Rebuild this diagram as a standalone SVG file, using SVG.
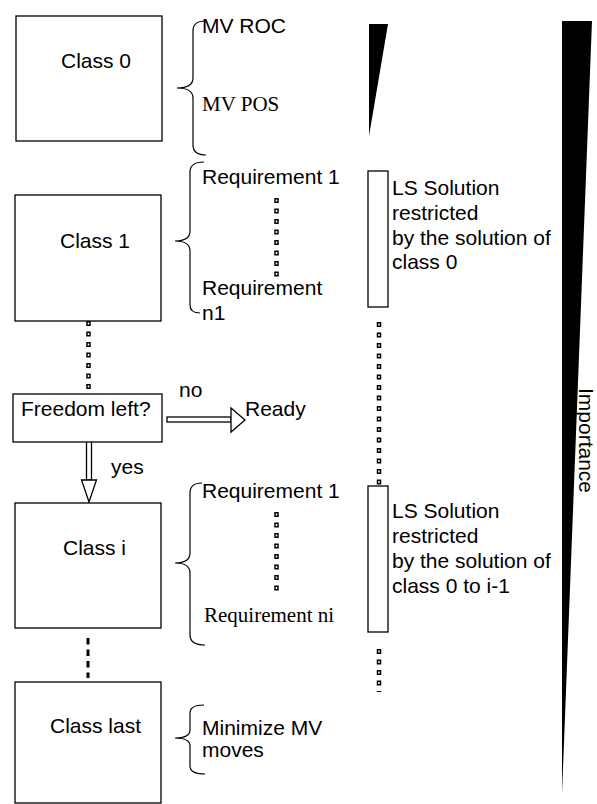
<svg xmlns="http://www.w3.org/2000/svg" width="597" height="804" viewBox="0 0 597 804">
<style>
.box{fill:#fff;stroke:#000;stroke-width:1.3}
.t{font-family:"Liberation Sans",Arial,sans-serif;font-size:21px;fill:#000}
.s{font-family:"Liberation Serif","Times New Roman",serif;font-size:21px;fill:#000}
.brace{fill:none;stroke:#000;stroke-width:1.2}
.dotb{stroke:#000;stroke-width:4.5;stroke-dasharray:5 5.5;fill:none}
.dotw{stroke:#fff;stroke-width:1.5;stroke-dasharray:2 8.5;stroke-dashoffset:-1.5;fill:none}
.arr{fill:#fff;stroke:#000;stroke-width:1.3}
</style>
<rect width="597" height="804" fill="#fff"/>
<g id="connectors">
<line class="dotb" x1="88.5" y1="321" x2="88.5" y2="398"/>
<line class="dotw" x1="88.5" y1="321" x2="88.5" y2="398"/>
<line class="dotb" x1="276.5" y1="198" x2="276.5" y2="278"/>
<line class="dotw" x1="276.5" y1="198" x2="276.5" y2="278"/>
<line class="dotb" x1="379" y1="322" x2="379" y2="485"/>
<line class="dotw" x1="379" y1="322" x2="379" y2="485"/>
<line class="dotb" x1="276.5" y1="512" x2="276.5" y2="596"/>
<line class="dotw" x1="276.5" y1="512" x2="276.5" y2="596"/>
<line class="dotb" x1="379" y1="649" x2="379" y2="692"/>
<line class="dotw" x1="379" y1="649" x2="379" y2="692"/>
<line x1="88" y1="638" x2="88" y2="678" stroke="#000" stroke-width="3" stroke-dasharray="6.5 5"/>
<rect class="arr" x="167" y="417" width="64" height="5"/>
<polygon class="arr" points="231,408 245,420 231,432"/>
<rect class="arr" x="86.5" y="441" width="5" height="39"/>
<polygon class="arr" points="81.5,480 96.5,480 89,502"/>
<text class="t" x="179" y="397">no</text>
<text class="t" x="111" y="474">yes</text>
</g>
<g id="class0">
<rect class="box" x="16" y="16" width="146" height="125"/>
<text class="t" x="61" y="68">Class 0</text>
</g>
<g id="brace0">
<path class="brace" d="M205,21 Q193,21 193,31 L193,78 Q193,88 177,88 Q193,88 193,98 L193,145 Q193,155 206,155"/>
<text class="t" x="202" y="33">MV ROC</text>
<text class="s" x="202" y="111">MV POS</text>
</g>
<g id="class1">
<rect class="box" x="15" y="195" width="146" height="126"/>
<text class="t" x="60" y="248">Class 1</text>
</g>
<g id="brace1">
<path class="brace" d="M204,162 Q190,162 190,172 L190,231 Q190,241 175,241 Q190,241 190,251 L190,305 Q190,313 200,313"/>
<text class="t" x="202" y="184">Requirement 1</text>
<text class="t" x="202" y="295">Requirement</text>
<text class="t" x="202" y="320">n1</text>
</g>
<g id="ls1">
<rect class="box" x="368" y="171" width="20" height="136"/>
<text class="t" x="392" y="195">LS Solution</text>
<text class="t" x="392" y="220">restricted</text>
<text class="t" x="392" y="245">by the solution of</text>
<text class="t" x="392" y="269">class 0</text>
</g>
<g id="freedom">
<rect class="box" x="13" y="394" width="149" height="48"/>
<text class="t" x="21" y="416">Freedom left?</text>
</g>
<g id="ready">
<text class="t" x="245" y="416">Ready</text>
</g>
<g id="classi">
<rect class="box" x="15" y="503" width="146" height="125"/>
<text class="t" x="63" y="555">Class i</text>
</g>
<g id="bracei">
<path class="brace" d="M202,483 Q190,483 190,493 L190,553 Q190,563 175,563 Q190,563 190,573 L190,635 Q190,645 205,645"/>
<text class="t" x="202" y="498">Requirement 1</text>
<text class="s" x="204" y="622">Requirement ni</text>
</g>
<g id="ls2">
<rect class="box" x="368" y="486" width="20" height="146"/>
<text class="t" x="392" y="518">LS Solution</text>
<text class="t" x="392" y="543">restricted</text>
<text class="t" x="392" y="568">by the solution of</text>
<text class="t" x="392" y="593">class 0 to i-1</text>
</g>
<g id="classlast">
<rect class="box" x="15" y="682" width="146" height="121"/>
<text class="t" x="50" y="733">Class last</text>
</g>
<g id="bracelast">
<path class="brace" d="M204,705 Q190,705 190,713 L190,730 Q190,738 175,738 Q190,738 190,746 L190,766 Q190,774 205,774"/>
<text class="t" x="202" y="735">Minimize MV</text>
<text class="t" x="202" y="757">moves</text>
</g>
<g id="wedge-small">
<polygon points="369,24 388,24 369,136" fill="#000"/>
</g>
<g id="importance">
<polygon points="562,21 592,21 562,794" fill="#000"/>
<text class="t" transform="translate(579,388) rotate(90)">Importance</text>
</g>
</svg>
